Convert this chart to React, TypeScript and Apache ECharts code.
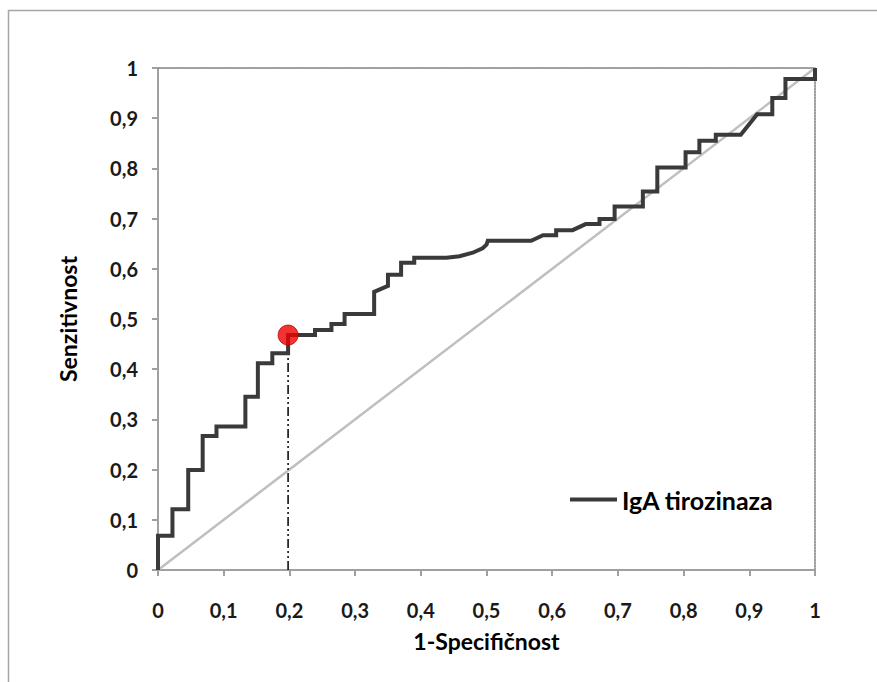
import React, { useEffect, useRef } from "react";
import * as echarts from "echarts";

// ROC curve points (1-specificity, sensitivity)
const rocX = [0, 0, 0.022, 0.022, 0.046, 0.046, 0.068, 0.068, 0.089, 0.089, 0.133, 0.133, 0.152, 0.152, 0.174, 0.174, 0.198, 0.198, 0.239, 0.239, 0.264, 0.264, 0.284, 0.284, 0.329, 0.329, 0.35, 0.35, 0.37, 0.37, 0.39, 0.39, 0.439, 0.459, 0.479, 0.494, 0.5, 0.502, 0.568, 0.586, 0.606, 0.606, 0.631, 0.651, 0.672, 0.672, 0.695, 0.695, 0.738, 0.738, 0.76, 0.76, 0.803, 0.803, 0.824, 0.824, 0.849, 0.849, 0.887, 0.912, 0.935, 0.935, 0.955, 0.955, 1, 1];
const rocY = [0, 0.068, 0.068, 0.121, 0.121, 0.199, 0.199, 0.267, 0.267, 0.286, 0.286, 0.345, 0.345, 0.412, 0.412, 0.432, 0.432, 0.468, 0.468, 0.478, 0.478, 0.49, 0.49, 0.51, 0.51, 0.554, 0.566, 0.588, 0.588, 0.612, 0.612, 0.622, 0.622, 0.625, 0.632, 0.641, 0.648, 0.656, 0.656, 0.667, 0.667, 0.677, 0.677, 0.689, 0.689, 0.699, 0.699, 0.724, 0.724, 0.754, 0.754, 0.802, 0.802, 0.832, 0.832, 0.855, 0.855, 0.867, 0.867, 0.908, 0.908, 0.94, 0.94, 0.978, 0.978, 1];

// Chance diagonal
const diagX = [0, 1];
const diagY = [0, 1];

// Optimal cut-off point
const cutoffX = 0.198;
const cutoffY = 0.468;

const seriesName = "IgA tirozinaza";
const xAxisName = "1-Specifičnost";
const yAxisName = "Senzitivnost";

const fmt = (v: number) => String(Math.round(v * 10) / 10).replace(".", ",");

export default function App() {
  const ref = useRef<HTMLDivElement>(null);

  useEffect(() => {
    if (!ref.current) return;
    const chart = echarts.init(ref.current, undefined, { renderer: "svg" });
    const font = "Lato";
    const axisCommon = {
      min: 0,
      max: 1,
      interval: 0.1,
      splitLine: { show: false },
    };
    const nameStyle = { fontFamily: font, fontWeight: "bold", fontSize: 23, color: "#000" };
    const labelStyle = { fontFamily: font, fontWeight: "bold", fontSize: 20, color: "#1a1a1a" };
    chart.setOption({
      animation: false,
      backgroundColor: "#ffffff",
      textStyle: { fontFamily: font },
      graphic: [
        {
          type: "rect",
          shape: { x: 8.5, y: 10.5, width: 900, height: 700 },
          style: { fill: "none", stroke: "#a6a6a6", lineWidth: 1.5 },
          silent: true,
        },
      ],
      grid: { left: 158, top: 68, right: 62, bottom: 112 },
      legend: {
        left: 565,
        top: 482,
        itemWidth: 47,
        itemHeight: 4,
        icon: "rect",
        data: [seriesName],
        textStyle: { ...nameStyle, fontSize: 25 },
      },
      xAxis: [
        {
          ...axisCommon,
          type: "value",
          position: "bottom",
          name: xAxisName,
          nameLocation: "middle",
          nameGap: 59,
          nameTextStyle: nameStyle,
          axisLine: { show: true, onZero: false, lineStyle: { color: "#a0a0a0", width: 2 } },
          axisTick: { show: true, length: 6, lineStyle: { color: "#a0a0a0", width: 2 } },
          axisLabel: { margin: 30, ...labelStyle, formatter: fmt },
        },
        {
          ...axisCommon,
          type: "value",
          position: "top",
          axisLine: { show: true, onZero: false, lineStyle: { color: "#808080", width: 1.5, type: [2, 1] } },
          axisTick: { show: false },
          axisLabel: { show: false },
        },
      ],
      yAxis: [
        {
          ...axisCommon,
          type: "value",
          position: "left",
          name: yAxisName,
          nameLocation: "middle",
          nameGap: 79,
          nameRotate: 90,
          nameTextStyle: nameStyle,
          axisLine: { show: true, onZero: false, lineStyle: { color: "#a0a0a0", width: 2 } },
          axisTick: { show: true, length: 6, lineStyle: { color: "#a0a0a0", width: 2 } },
          axisLabel: { margin: 20, ...labelStyle, formatter: fmt },
        },
        {
          ...axisCommon,
          type: "value",
          position: "right",
          axisLine: { show: true, onZero: false, lineStyle: { color: "#808080", width: 1.5, type: [2, 1] } },
          axisTick: { show: false },
          axisLabel: { show: false },
        },
      ],
      series: [
        {
          name: "diag",
          type: "line",
          data: diagX.map((x, i) => [x, diagY[i]]),
          symbol: "none",
          lineStyle: { color: "#bfbfbf", width: 2.5 },
          silent: true,
          z: 1,
        },
        {
          name: "cutoff",
          type: "line",
          data: [[cutoffX, 0], [cutoffX, cutoffY]],
          symbol: "none",
          lineStyle: { color: "#000000", width: 1.5, type: [9, 3, 2, 3, 2, 3] },
          silent: true,
          z: 2,
        },
        {
          name: seriesName,
          type: "line",
          data: rocX.map((x, i) => [x, rocY[i]]),
          symbol: "none",
          lineStyle: { color: "#3a3a3a", width: 4, join: "miter" },
          itemStyle: { color: "#3a3a3a" },
          z: 3,
        },
        {
          name: "point",
          type: "scatter",
          data: [[cutoffX, cutoffY]],
          symbolSize: 20,
          itemStyle: { color: "#ee0000", borderColor: "#c00000", borderWidth: 1 },
          silent: true,
          z: 4,
        },
      ],
    });
    return () => chart.dispose();
  }, []);

  return (
    <div
      ref={ref}
      style={{ position: "absolute", left: 0, top: 0, width: 877, height: 682 }}
    />
  );
}
